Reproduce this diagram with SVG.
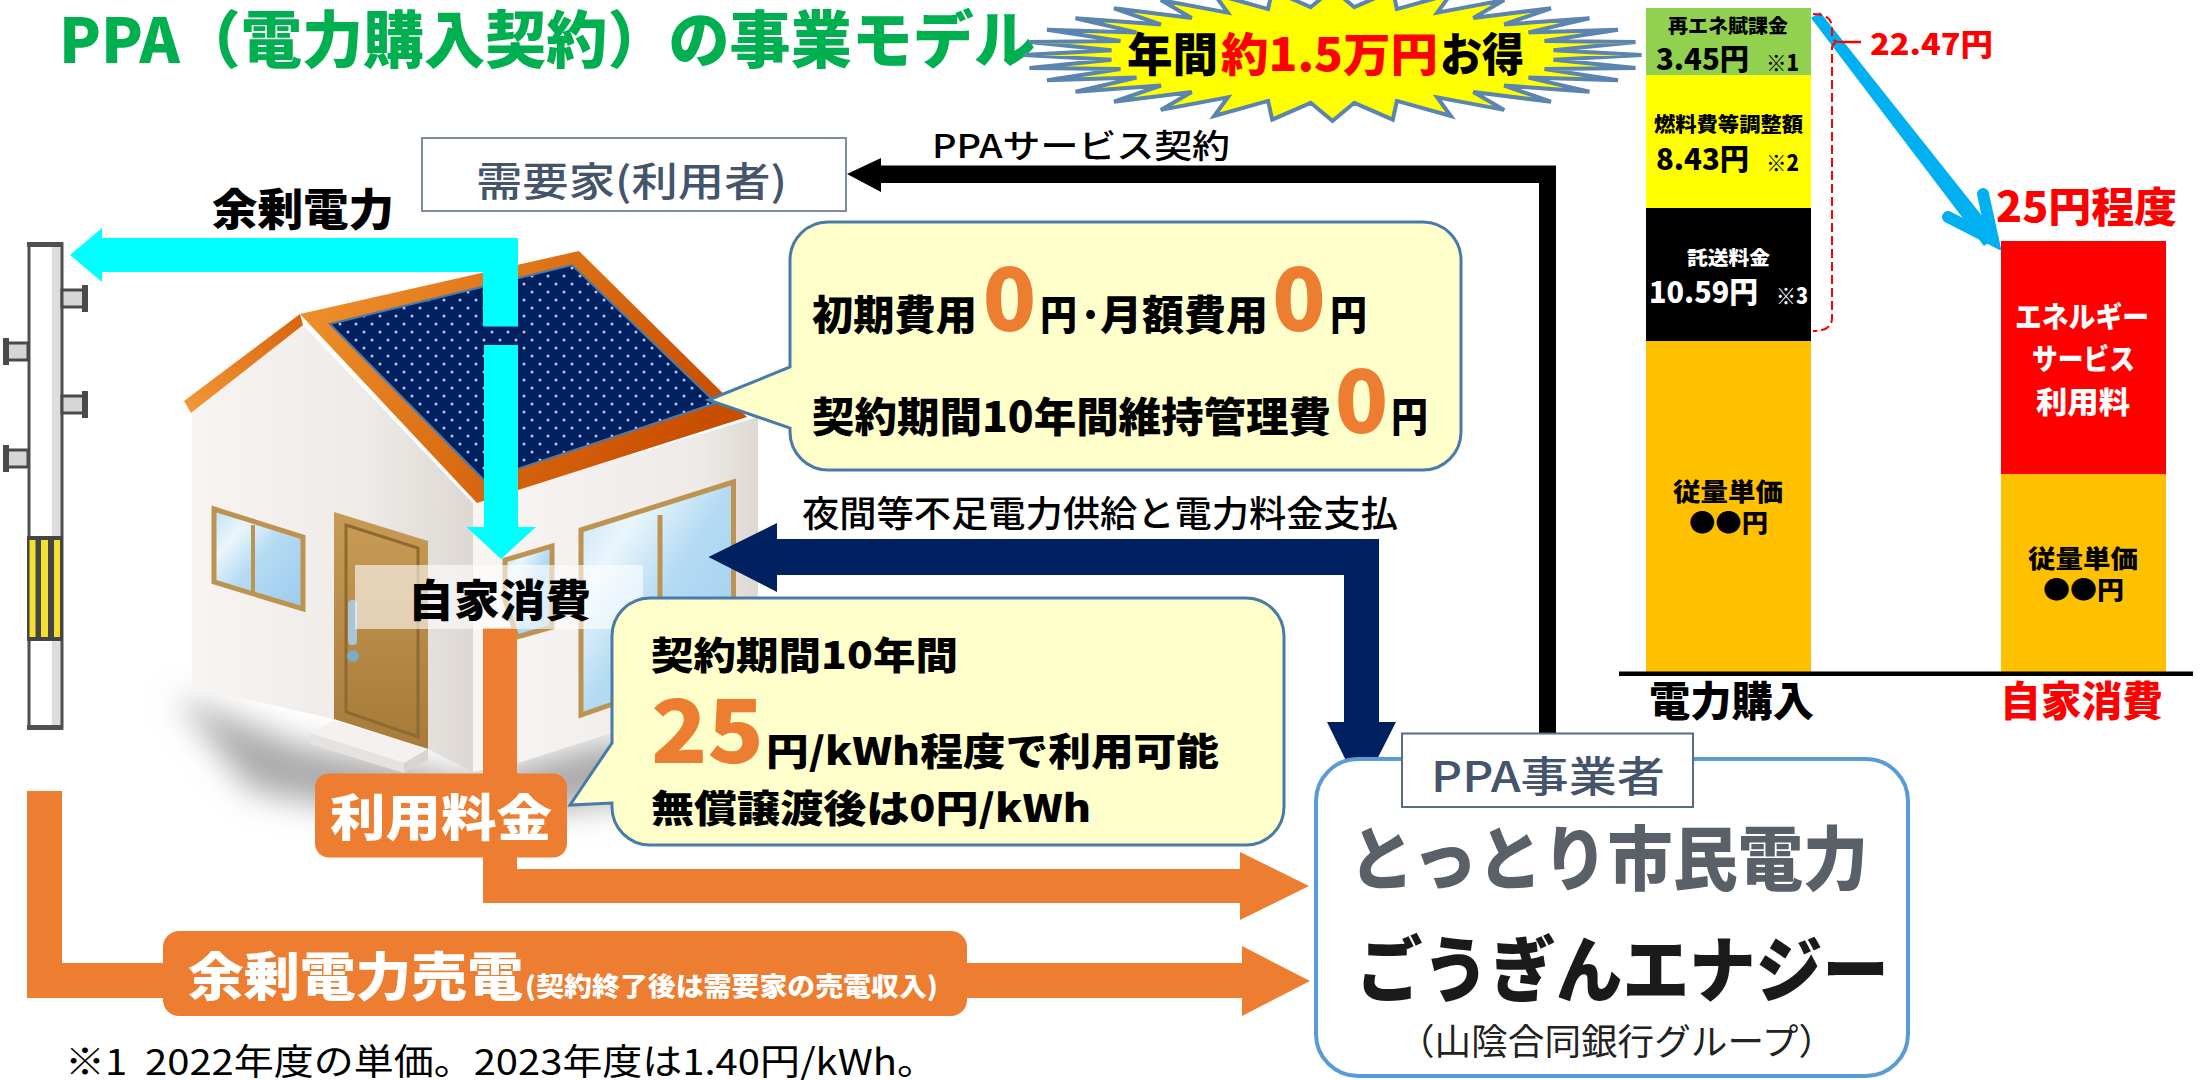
<svg xmlns="http://www.w3.org/2000/svg" width="2201" height="1080" viewBox="0 0 2201 1080">
<style>
text{font-family:"Noto Sans CJK JP","Noto Sans",sans-serif}
.b{font-weight:900}
.m{font-weight:500}
.r{font-weight:400}
.o{fill:#ED7D31}
.w{fill:#fff}
.red{fill:#f00}
.sl{fill:#44546A}
.call{fill:#FFFFCC;stroke:#4A7BA7;stroke-width:3}
.frame{stroke:#BC9350;stroke-width:5;fill:url(#glass)}
.ins{fill:#d6d6d6;stroke:#4a4a4a;stroke-width:3}
</style>
<defs>
<linearGradient id="roof" x1="0" y1="0" x2="1" y2="0.4"><stop offset="0" stop-color="#F2952F"/><stop offset="1" stop-color="#C94F00"/></linearGradient>
<linearGradient id="roofL" x1="1" y1="0" x2="0" y2="1"><stop offset="0" stop-color="#D9620C"/><stop offset="1" stop-color="#F29A3A"/></linearGradient>
<linearGradient id="wallL" x1="0" y1="0" x2="1" y2="0"><stop offset="0" stop-color="#F7F4F1"/><stop offset="0.6" stop-color="#EFEBE8"/><stop offset="1" stop-color="#DDD8D3"/></linearGradient>
<linearGradient id="wallR" x1="0" y1="0" x2="1" y2="0"><stop offset="0" stop-color="#F8F5F3"/><stop offset="0.8" stop-color="#EEEAE7"/><stop offset="1" stop-color="#DDD8D3"/></linearGradient>
<linearGradient id="glass" x1="0" y1="0" x2="1" y2="1"><stop offset="0" stop-color="#BFE0F5"/><stop offset="0.25" stop-color="#EAF6FC"/><stop offset="0.5" stop-color="#B5DBF3"/><stop offset="1" stop-color="#9CCBEE"/></linearGradient>
<linearGradient id="door" x1="0" y1="0" x2="0" y2="1"><stop offset="0" stop-color="#C79A55"/><stop offset="1" stop-color="#A97B3A"/></linearGradient>
<linearGradient id="poleG" x1="0" y1="0" x2="1" y2="0"><stop offset="0" stop-color="#fff"/><stop offset="0.68" stop-color="#fff"/><stop offset="0.69" stop-color="#ddd"/><stop offset="1" stop-color="#ddd"/></linearGradient>
<pattern id="dots" width="16" height="16" patternUnits="userSpaceOnUse"><rect width="16" height="16" fill="#002060"/><circle cx="4" cy="4" r="1.5" fill="#AFC8F0"/><circle cx="12" cy="12" r="1.5" fill="#AFC8F0"/></pattern>
<filter id="blur" x="-30%" y="-30%" width="160%" height="160%"><feGaussianBlur stdDeviation="16"/></filter>
</defs>
<rect width="2201" height="1080" fill="#fff"/>

<g id="title"><text class="b" x="59" y="63" font-size="62" textLength="976" lengthAdjust="spacingAndGlyphs" fill="#00B050">PPA（電力購入契約）の事業モデル</text></g>

<g id="savings-star">
<path transform="translate(1332.5 55)" fill="#FFFF00" stroke="#5B84AE" stroke-width="4" stroke-linejoin="miter" d="M309,0L221,4.7L303,12.9L212,13.9L285.5,25.3L196,22.6L257,36.7L171.6,30.5L218.5,46.7L140.8,37.1L171.7,54.9L104.7,42.3L118.3,61L64.4,45.9L60.3,64.7L21.8,47.8L0,66L-21.8,47.8L-60.3,64.7L-64.4,45.9L-118.3,61L-104.7,42.3L-171.7,54.9L-140.8,37.1L-218.5,46.7L-171.6,30.5L-257,36.7L-196,22.6L-285.5,25.3L-212,13.9L-303,12.9L-221,4.7L-309,0L-221,-4.7L-303,-12.9L-212,-13.9L-285.5,-25.3L-196,-22.6L-257,-36.7L-171.6,-30.5L-218.5,-46.7L-140.8,-37.1L-171.7,-54.9L-104.7,-42.3L-118.3,-61L-64.4,-45.9L-60.3,-64.7L-21.8,-47.8L0,-66L21.8,-47.8L60.3,-64.7L64.4,-45.9L118.3,-61L104.7,-42.3L171.7,-54.9L140.8,-37.1L218.5,-46.7L171.6,-30.5L257,-36.7L196,-22.6L285.5,-25.3L212,-13.9L303,-12.9L221,-4.7Z"/>
<text class="b" x="1127" y="71" font-size="46" textLength="91" lengthAdjust="spacingAndGlyphs">年間</text>
<text class="b red" x="1221" y="71" font-size="46" textLength="217" lengthAdjust="spacingAndGlyphs">約1.5万円</text>
<text class="b" x="1440" y="71" font-size="46" textLength="84" lengthAdjust="spacingAndGlyphs">お得</text>
</g>

<g id="house">
<polygon points="175,695 300,745 473,778 625,735 640,800 420,825 250,790" fill="#aaa" filter="url(#blur)"/>
<polygon points="192,413 303,325 473,503 473,772 428,749 334,719 192,687" fill="url(#wallL)"/>
<polygon points="473,503 518,489 758,417 758,686 518,763 473,772" fill="url(#wallR)"/>
<polygon points="300,314 184,401 191,413 303,325" fill="url(#roofL)"/>
<polygon points="300,314 579,251 747,417 477,503" fill="url(#roof)"/>
<polygon points="330,324 572,265 716,403 484,480" fill="url(#dots)" stroke="#4A7BA7" stroke-width="2"/>
<polygon class="frame" points="214,509 303,537 303,609 214,582"/>
<line x1="253" y1="525" x2="253" y2="595" stroke="#BC9350" stroke-width="4"/>
<polygon points="334,512 428,541 428,749 334,719" fill="url(#door)"/>
<polygon points="346,525 418,548 418,737 346,712" fill="url(#door)" stroke="#8E6A30" stroke-width="3"/>
<rect x="348" y="600" width="9" height="45" rx="4" fill="#A9C6D8"/>
<circle cx="353" cy="656" r="6" fill="#7FA9C4"/>
<polygon points="309.6,733 334,720.7 428,749 404,763" fill="#F4F1EE"/>
<polygon points="309.6,733 404,763 404,773 309.6,744" fill="#E6E2DF"/>
<polygon points="404,763 428,749 428,760 404,773" fill="#D8D4D0"/>
<polygon class="frame" points="581,530 733.5,482 733.5,662 581,715"/>
<line x1="660" y1="515" x2="660" y2="690" stroke="#BC9350" stroke-width="5"/>
<polygon class="frame" points="505,560 552,546 552,627 517,637 505,600"/>
</g>

<g id="pole">
<rect x="29" y="244" width="33" height="484" fill="url(#poleG)" stroke="#505050" stroke-width="3"/>
<rect x="27" y="242" width="36" height="5" fill="#505050"/>
<rect x="27" y="725" width="36" height="5" fill="#505050"/>
<rect class="ins" x="62" y="290" width="22" height="17"/><rect x="82" y="285" width="6" height="27" fill="#4a4a4a"/>
<rect class="ins" x="62" y="396" width="22" height="17"/><rect x="82" y="391" width="6" height="27" fill="#4a4a4a"/>
<rect class="ins" x="6" y="343" width="22" height="17"/><rect x="3" y="338" width="6" height="27" fill="#4a4a4a"/>
<rect class="ins" x="6" y="450" width="22" height="17"/><rect x="3" y="445" width="6" height="27" fill="#4a4a4a"/>
<rect x="27" y="536" width="36" height="105" fill="#454545"/>
<rect x="29.500" y="540" width="6" height="97" fill="#F2E12E"/><rect x="41" y="540" width="7" height="97" fill="#F2E12E"/><rect x="54" y="540" width="6" height="97" fill="#F2E12E"/>
</g>

<g id="connectors">
<path id="contract-arrow" fill="#000" d="M847,174L881,158V165.500H1556V733H1539V183H881V192Z"/>
<path id="night-supply-arrow" fill="#002060" d="M708.500,557L777,523V539H1379V722H1396L1361,791L1327,722H1344V575H777V592Z"/>
<path id="surplus-arrow" fill="#00FFFF" d="M70,255L102,228V238H518V326.500H483V272H102V282Z"/>
<path id="self-use-arrow" fill="#00FFFF" d="M484,345H518V527H536L501,559L466.600,527H484Z"/>
<path id="fee-arrow" class="o" d="M483,628H517V869H1240V852L1309,886L1240,920V903H483Z"/>
<path id="sale-arrow" class="o" d="M27,791H62V963H1242V946L1310,981L1242,1016V998H27Z"/>
</g>

<g id="customer">
<rect x="422" y="138" width="424" height="73" fill="#fff" stroke="#7F8C9E" stroke-width="2"/>
<text class="m sl" x="476" y="196" font-size="40" textLength="311" lengthAdjust="spacingAndGlyphs">需要家(利用者)</text>
</g>
<g id="contract-label"><text class="m" x="932" y="158" font-size="33" textLength="298" lengthAdjust="spacingAndGlyphs">PPAサービス契約</text></g>
<g id="surplus-label"><text class="b" x="212" y="226" font-size="44" textLength="182" lengthAdjust="spacingAndGlyphs">余剰電力</text></g>
<g id="night-label"><text class="m" x="802" y="527" font-size="36" textLength="596" lengthAdjust="spacingAndGlyphs">夜間等不足電力供給と電力料金支払</text></g>

<g id="self-consumption">
<rect x="355" y="565" width="288" height="64" fill="#fff" fill-opacity="0.6"/>
<text class="b" x="408" y="617" font-size="44" textLength="183" lengthAdjust="spacingAndGlyphs">自家消費</text>
</g>

<g id="cost-callout">
<path class="call" d="M828,222H1423A38,38 0 0 1 1461,260V432A38,38 0 0 1 1423,470H828A38,38 0 0 1 790,432V428L708.500,400L790,367V260A38,38 0 0 1 828,222Z"/>
<text class="b" x="812" y="330" font-size="41" textLength="165" lengthAdjust="spacingAndGlyphs">初期費用</text>
<text class="b o" x="1009.500" y="331" font-size="88" text-anchor="middle">0</text>
<text class="b" x="1040" y="330" font-size="41" textLength="37" lengthAdjust="spacingAndGlyphs">円</text>
<text class="b" x="1078" y="330" font-size="41" textLength="22">·</text>
<text class="b" x="1100" y="330" font-size="41" textLength="168" lengthAdjust="spacingAndGlyphs">月額費用</text>
<text class="b o" x="1299" y="331" font-size="88" text-anchor="middle">0</text>
<text class="b" x="1330" y="330" font-size="41" textLength="37" lengthAdjust="spacingAndGlyphs">円</text>
<text class="b" x="812" y="432" font-size="41" textLength="519" lengthAdjust="spacingAndGlyphs">契約期間10年間維持管理費</text>
<text class="b o" x="1361.500" y="433" font-size="88" text-anchor="middle">0</text>
<text class="b" x="1391" y="432" font-size="41" textLength="37" lengthAdjust="spacingAndGlyphs">円</text>
</g>

<g id="price-callout">
<path class="call" d="M650,598H1246A38,38 0 0 1 1284,636V807A38,38 0 0 1 1246,845H650A38,38 0 0 1 612,807V803L570,805L612,743V636A38,38 0 0 1 650,598Z"/>
<text class="b" x="651" y="669" font-size="38" textLength="307" lengthAdjust="spacingAndGlyphs">契約期間10年間</text>
<text class="b o" x="651" y="763" font-size="88" textLength="113" lengthAdjust="spacingAndGlyphs">25</text>
<text class="b" x="766" y="765" font-size="38" textLength="453" lengthAdjust="spacingAndGlyphs">円/kWh程度で利用可能</text>
<text class="b" x="651" y="822" font-size="38" textLength="440" lengthAdjust="spacingAndGlyphs">無償譲渡後は0円/kWh</text>
</g>

<g id="usage-fee">
<rect x="315" y="773.500" width="252" height="84" rx="14" class="o"/>
<text class="b w" x="330" y="836" font-size="50" textLength="222" lengthAdjust="spacingAndGlyphs">利用料金</text>
</g>
<g id="surplus-sale">
<rect x="163" y="931" width="804" height="85" rx="16" class="o"/>
<text class="b w" x="188" y="996" font-size="52" textLength="335" lengthAdjust="spacingAndGlyphs">余剰電力売電</text>
<text class="b w" x="525" y="996" font-size="26" textLength="413" lengthAdjust="spacingAndGlyphs">(契約終了後は需要家の売電収入)</text>
</g>

<g id="provider">
<rect x="1316" y="759" width="592" height="317" rx="42" fill="#fff" stroke="#5B9BD5" stroke-width="4"/>
<rect x="1402" y="733.500" width="291" height="73.500" fill="#fff" stroke="#5A6B85" stroke-width="2"/>
<text class="m sl" x="1431" y="792" font-size="42" textLength="234" lengthAdjust="spacingAndGlyphs">PPA事業者</text>
<text class="b" x="1349" y="885" font-size="70" fill="#5A6067" textLength="519" lengthAdjust="spacingAndGlyphs">とっとり市民電力</text>
<text class="b" x="1356" y="996" font-size="72" fill="#1a1a1a" textLength="533" lengthAdjust="spacingAndGlyphs">ごうぎんエナジー</text>
<text class="r" x="1398" y="1055" font-size="36" fill="#222" textLength="437" lengthAdjust="spacingAndGlyphs">（山陰合同銀行グループ）</text>
</g>

<g id="note"><text class="r" x="65" y="1075" font-size="36" textLength="872" lengthAdjust="spacingAndGlyphs">※1&#160;&#160;2022年度の単価。2023年度は1.40円/kWh。</text></g>

<g id="chart">
<rect x="1646" y="8" width="165" height="67" fill="#92D050"/>
<rect x="1646" y="75" width="165" height="133" fill="#FFFF00"/>
<rect x="1646" y="208" width="165" height="133" fill="#000"/>
<rect x="1646" y="341" width="165" height="331" fill="#FFC000"/>
<rect x="2001" y="241" width="165" height="233" fill="#f00"/>
<rect x="2001" y="474" width="165" height="198" fill="#FFC000"/>
<rect x="1619" y="671.500" width="574" height="4.500" fill="#000"/>
<text class="b" x="1668" y="33" font-size="19" textLength="120" lengthAdjust="spacingAndGlyphs">再エネ賦課金</text>
<text class="b" x="1656" y="70" font-size="29" textLength="93" lengthAdjust="spacingAndGlyphs">3.45円</text>
<text class="b" x="1766" y="71" font-size="22" textLength="33" lengthAdjust="spacingAndGlyphs">※1</text>
<text class="b" x="1654" y="132" font-size="20" textLength="149" lengthAdjust="spacingAndGlyphs">燃料費等調整額</text>
<text class="b" x="1656" y="170" font-size="29" textLength="93" lengthAdjust="spacingAndGlyphs">8.43円</text>
<text class="b" x="1766" y="171" font-size="22" textLength="33" lengthAdjust="spacingAndGlyphs">※2</text>
<text class="b w" x="1687" y="265" font-size="19" textLength="83" lengthAdjust="spacingAndGlyphs">託送料金</text>
<text class="b w" x="1649" y="303" font-size="29" textLength="109" lengthAdjust="spacingAndGlyphs">10.59円</text>
<text class="b w" x="1776" y="304" font-size="22" textLength="32" lengthAdjust="spacingAndGlyphs">※3</text>
<text class="b" x="1673" y="501" font-size="25" textLength="110" lengthAdjust="spacingAndGlyphs">従量単価</text>
<text class="b" x="1689" y="532" font-size="25" textLength="79" lengthAdjust="spacingAndGlyphs">●●円</text>
<text class="b w" x="2015" y="328" font-size="29" textLength="134" lengthAdjust="spacingAndGlyphs">エネルギー</text>
<text class="b w" x="2032" y="370" font-size="29" textLength="103" lengthAdjust="spacingAndGlyphs">サービス</text>
<text class="b w" x="2036" y="413" font-size="30" textLength="94" lengthAdjust="spacingAndGlyphs">利用料</text>
<text class="b" x="2028" y="568" font-size="25" textLength="110" lengthAdjust="spacingAndGlyphs">従量単価</text>
<text class="b" x="2043" y="599" font-size="25" textLength="81" lengthAdjust="spacingAndGlyphs">●●円</text>
<text class="b" x="1649" y="716" font-size="41" textLength="165" lengthAdjust="spacingAndGlyphs">電力購入</text>
<text class="b red" x="2000" y="716" font-size="41" textLength="163" lengthAdjust="spacingAndGlyphs">自家消費</text>
<text class="b red" x="1996" y="222" font-size="41" textLength="181" lengthAdjust="spacingAndGlyphs">25円程度</text>
<text class="b red" x="1870" y="55" font-size="30" textLength="123" lengthAdjust="spacingAndGlyphs">22.47円</text>
<polygon id="drop-line" points="1811,18 1820,12 1998,236 1984,246" fill="#00B0F0"/>
<path id="drop-head" d="M1983,194L1993,240L1948,217" fill="none" stroke="#00B0F0" stroke-width="12" stroke-linecap="round" stroke-linejoin="miter"/>
<path id="bracket" d="M1813,14Q1832,14 1832,28V36Q1832,42 1841,42Q1832,42 1832,48V318Q1832,331 1813,331" fill="none" stroke="#f00" stroke-width="2" stroke-dasharray="9 4"/>
<line x1="1841" y1="42" x2="1861" y2="42" stroke="#f00" stroke-width="2.500"/>
</g>
</svg>
